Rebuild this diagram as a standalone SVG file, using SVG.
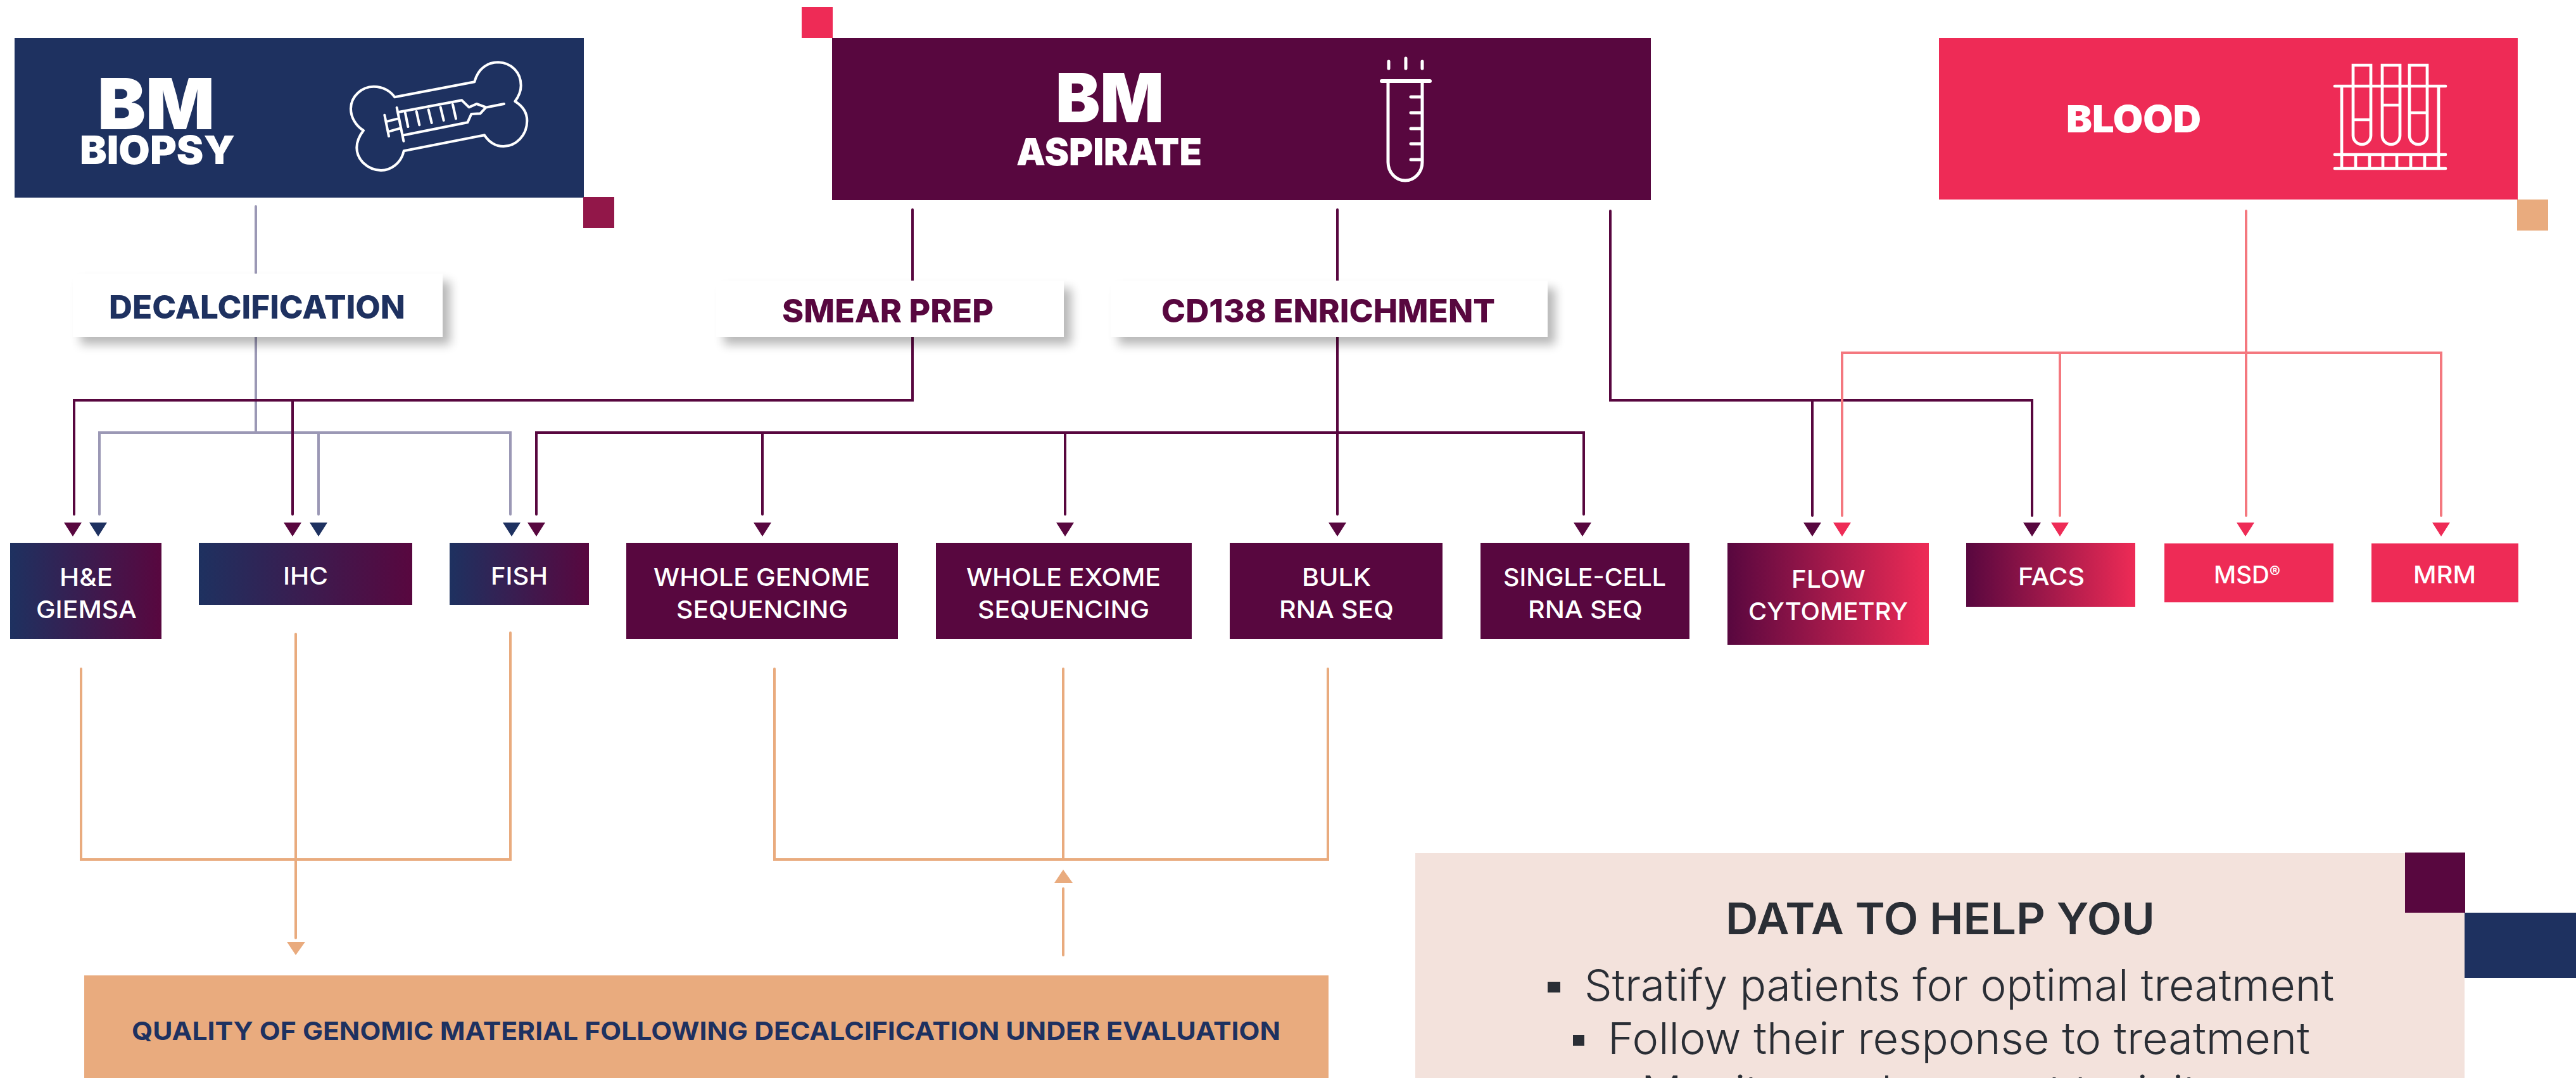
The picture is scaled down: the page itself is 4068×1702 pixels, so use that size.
<svg xmlns="http://www.w3.org/2000/svg" width="4068" height="1702" viewBox="0 0 4068 1702">
<style>
text{font-family:Inter,"Liberation Sans",sans-serif}
.hv{font-weight:900;fill:#fff}
.sub{font-weight:800;font-size:51px}
.n{font-weight:500;font-size:38.5px;fill:#fff}
.nv{fill:#1e3160}.pu{fill:#58073f}.pk{fill:#ee2b56}.or{fill:#e9ab7e}
.c{fill:none;stroke-width:4;stroke-linecap:round;stroke-linejoin:miter}
.cg{stroke:#9b98b5}.cp{stroke:#58073f}.cr{stroke:#f4787f}.co{stroke:#e9ab7e}
.i{fill:none;stroke:#fff;stroke-linecap:round;stroke-linejoin:round}
.b{font-weight:300;font-size:69px;fill:#2a2e35}
</style>
<defs>
<linearGradient id="g1"><stop offset="0" stop-color="#1e3160"/><stop offset="1" stop-color="#58073f"/></linearGradient>
<linearGradient id="g2"><stop offset="0" stop-color="#58073f"/><stop offset="1" stop-color="#ee2b56"/></linearGradient>
<filter id="sh" x="-10%" y="-20%" width="125%" height="150%"><feGaussianBlur stdDeviation="8"/></filter>
<path id="td" d="M-14 825H14L0 847Z"/>
</defs>

<g id="connectors">
<path class="c cg" d="M404 326V431M404 532V683M157 812V683H806V812M503 683V812"/>
<path class="c cp" d="M1441 331V443M1441 532V632H117V812M462 632V812"/>
<path class="c cp" d="M2112 331V443M2112 532V812M847 812V683H2501V812M1204 683V812M1682 683V812"/>
<path class="c cp" d="M2543 333V632H3209V814M2862 632V814"/>
<path class="c cr" d="M3547 333V814M2909 814V557H3855V814M3253 557V814"/>
<path class="c co" d="M128 1056V1357H806V999M467 1001V1481"/>
<path class="c co" d="M1223 1056V1357H2097V1056M1679 1056V1357M1679 1403V1508"/>
<use href="#td" class="pu" x="115"/><use href="#td" class="nv" x="155"/>
<use href="#td" class="pu" x="462"/><use href="#td" class="nv" x="503"/>
<use href="#td" class="nv" x="808"/><use href="#td" class="pu" x="847"/>
<use href="#td" class="pu" x="1204"/><use href="#td" class="pu" x="1682"/>
<use href="#td" class="pu" x="2112"/><use href="#td" class="pu" x="2499"/>
<use href="#td" class="pu" x="2862"/><use href="#td" class="pk" x="2909"/>
<use href="#td" class="pu" x="3209"/><use href="#td" class="pk" x="3253"/>
<use href="#td" class="pk" x="3546"/><use href="#td" class="pk" x="3855"/>
<path class="or" d="M453 1487H482L467 1508Z"/>
<path class="or" d="M1665 1394H1694L1679 1373Z"/>
</g>

<g id="bm-biopsy">
<rect x="23" y="60" width="899" height="252" class="nv"/>
<rect x="921" y="311" width="49" height="49" fill="#921749"/>
<text class="hv" x="154" y="204" font-size="112" textLength="185" lengthAdjust="spacingAndGlyphs">BM</text>
<text class="hv" x="126" y="259" font-size="62" textLength="245" lengthAdjust="spacingAndGlyphs">BIOPSY</text>
<g class="i" stroke-width="12" transform="translate(500 70) scale(.33333)">
<path d="M370 250L748 178C765 110 815 85 860 85C925 87 968 135 968 195C968 225 955 250 940 270C980 295 997 325 997 362C997 430 945 483 885 483C845 483 815 460 795 430L413 505C400 565 350 597 305 597C240 595 190 545 190 490C190 455 205 430 222 408C185 385 162 345 162 305C162 245 215 200 270 200C315 200 350 222 370 250Z"/>
<path d="M322 335L342 435M335 365L385 352M345 412L395 398M380 300L412 458M392 320L688 265L722 298L758 282L803 298L775 328L733 330L715 370L415 430M808 298L888 282M420 325L433 390M473 318L487 382M530 310L545 372M587 298L602 360M645 285L660 352"/>
</g>
</g>

<g id="bm-aspirate">
<rect x="1266" y="11" width="49" height="49" class="pk"/>
<rect x="1314" y="60" width="1293" height="256" class="pu"/>
<text class="hv" x="1667" y="193" font-size="107" textLength="171" lengthAdjust="spacingAndGlyphs">BM</text>
<text class="hv" x="1605" y="261" font-size="59" textLength="293" lengthAdjust="spacingAndGlyphs">ASPIRATE</text>
<g class="i" stroke-width="5">
<path d="M2193 97V108M2220 92V108M2246 97V108"/>
<path d="M2182 128H2258" stroke-width="6"/>
<path d="M2192 131V256C2192 272 2204 285 2219 285C2234 285 2246 272 2246 256V131M2228 153H2246M2228 178H2246M2228 203H2246M2228 227H2246M2228 252H2246"/>
</g>
</g>

<g id="blood">
<rect x="3062" y="60" width="914" height="255" class="pk"/>
<rect x="3975" y="315" width="49" height="49" class="or"/>
<text class="hv" x="3263" y="209" font-size="59" textLength="213" lengthAdjust="spacingAndGlyphs">BLOOD</text>
<g class="i" stroke-width="4.7">
<path d="M3687 136H3862M3687 244H3862M3687 266H3862M3698 136V266M3851 136V266M3720 244V266M3742 244V266M3763 244V266M3785 244V266M3807 244V266M3829 244V266"/>
<path stroke-linejoin="miter" d="M3716 103H3744V214A14 14 0 0 1 3716 214ZM3762 103H3790V214A14 14 0 0 1 3762 214ZM3805 103H3833V214A14 14 0 0 1 3805 214ZM3716 189H3744M3762 166H3790M3805 178H3833"/>
</g>
</g>

<g id="decalcification">
<rect x="127" y="444" width="584" height="100" fill="#000" opacity=".28" filter="url(#sh)"/>
<rect x="115" y="432" width="584" height="100" fill="#fff"/>
<text class="sub nv" x="172" y="503" font-size="50" textLength="468" lengthAdjust="spacingAndGlyphs">DECALCIFICATION</text>
</g>
<g id="smear-prep">
<rect x="1143" y="455" width="549" height="89" fill="#000" opacity=".28" filter="url(#sh)"/>
<rect x="1131" y="443" width="549" height="89" fill="#fff"/>
<text class="sub pu" x="1235" y="509" textLength="334" lengthAdjust="spacingAndGlyphs">SMEAR PREP</text>
</g>
<g id="cd138-enrichment">
<rect x="1766" y="455" width="690" height="89" fill="#000" opacity=".28" filter="url(#sh)"/>
<rect x="1754" y="443" width="690" height="89" fill="#fff"/>
<text class="sub pu" x="1834" y="509" textLength="527" lengthAdjust="spacingAndGlyphs">CD138 ENRICHMENT</text>
</g>

<g id="he-giemsa"><rect x="16" y="857" width="239" height="152" fill="url(#g1)"/>
<text class="n" x="94" y="925" textLength="84" lengthAdjust="spacingAndGlyphs">H&amp;E</text>
<text class="n" x="57" y="976" textLength="159" lengthAdjust="spacingAndGlyphs">GIEMSA</text></g>
<g id="ihc"><rect x="314" y="857" width="337" height="98" fill="url(#g1)"/>
<text class="n" x="447" y="923" textLength="71" lengthAdjust="spacingAndGlyphs">IHC</text></g>
<g id="fish"><rect x="710" y="857" width="220" height="98" fill="url(#g1)"/>
<text class="n" x="775" y="923" textLength="90" lengthAdjust="spacingAndGlyphs">FISH</text></g>
<g id="wgs"><rect x="989" y="857" width="429" height="152" class="pu"/>
<text class="n" x="1032" y="925" textLength="342" lengthAdjust="spacingAndGlyphs">WHOLE GENOME</text>
<text class="n" x="1068" y="976" textLength="271" lengthAdjust="spacingAndGlyphs">SEQUENCING</text></g>
<g id="wes"><rect x="1478" y="857" width="404" height="152" class="pu"/>
<text class="n" x="1526" y="925" textLength="307" lengthAdjust="spacingAndGlyphs">WHOLE EXOME</text>
<text class="n" x="1544" y="976" textLength="271" lengthAdjust="spacingAndGlyphs">SEQUENCING</text></g>
<g id="bulk-rna"><rect x="1942" y="857" width="336" height="152" class="pu"/>
<text class="n" x="2056" y="925" textLength="109" lengthAdjust="spacingAndGlyphs">BULK</text>
<text class="n" x="2020" y="976" textLength="181" lengthAdjust="spacingAndGlyphs">RNA SEQ</text></g>
<g id="sc-rna"><rect x="2338" y="857" width="330" height="152" class="pu"/>
<text class="n" x="2374" y="925" textLength="257" lengthAdjust="spacingAndGlyphs">SINGLE-CELL</text>
<text class="n" x="2413" y="976" textLength="181" lengthAdjust="spacingAndGlyphs">RNA SEQ</text></g>
<g id="flow"><rect x="2728" y="857" width="318" height="161" fill="url(#g2)"/>
<text class="n" x="2829" y="928" textLength="117" lengthAdjust="spacingAndGlyphs">FLOW</text>
<text class="n" x="2761" y="979" textLength="252" lengthAdjust="spacingAndGlyphs">CYTOMETRY</text></g>
<g id="facs"><rect x="3105" y="857" width="267" height="101" fill="url(#g2)"/>
<text class="n" x="3187" y="924" textLength="105" lengthAdjust="spacingAndGlyphs">FACS</text></g>
<g id="msd"><rect x="3418" y="858" width="267" height="93" class="pk"/>
<text class="n" x="3496" y="921">MSD<tspan font-size="26" dy="-9">®</tspan></text></g>
<g id="mrm"><rect x="3745" y="858" width="232" height="93" class="pk"/>
<text class="n" x="3811" y="921" textLength="99" lengthAdjust="spacingAndGlyphs">MRM</text></g>

<g id="quality">
<rect x="133" y="1540" width="1965" height="162" class="or"/>
<text class="nv" x="208" y="1642" font-size="40" font-weight="700" textLength="1814" lengthAdjust="spacingAndGlyphs">QUALITY OF GENOMIC MATERIAL FOLLOWING DECALCIFICATION UNDER EVALUATION</text>
</g>

<g id="data">
<rect x="2235" y="1347" width="1657" height="355" fill="#f3e2dc"/>
<rect x="3798" y="1346" width="95" height="95" class="pu"/>
<rect x="3892" y="1441" width="176" height="103" class="nv"/>
<text x="2725" y="1475" font-size="69" font-weight="600" fill="#2a2e35" textLength="678" lengthAdjust="spacingAndGlyphs">DATA TO HELP YOU</text>
<rect x="2444" y="1550" width="20" height="17" fill="#2a2e35"/>
<text class="b" x="2502" y="1580" textLength="1184" lengthAdjust="spacingAndGlyphs">Stratify patients for optimal treatment</text>
<rect x="2484" y="1634" width="18" height="17" fill="#2a2e35"/>
<text class="b" x="2539" y="1664" textLength="1109" lengthAdjust="spacingAndGlyphs">Follow their response to treatment</text>
<text class="b" x="2592" y="1748" textLength="918" lengthAdjust="spacingAndGlyphs">Monitor and prevent toxicity</text>
</g>
</svg>
